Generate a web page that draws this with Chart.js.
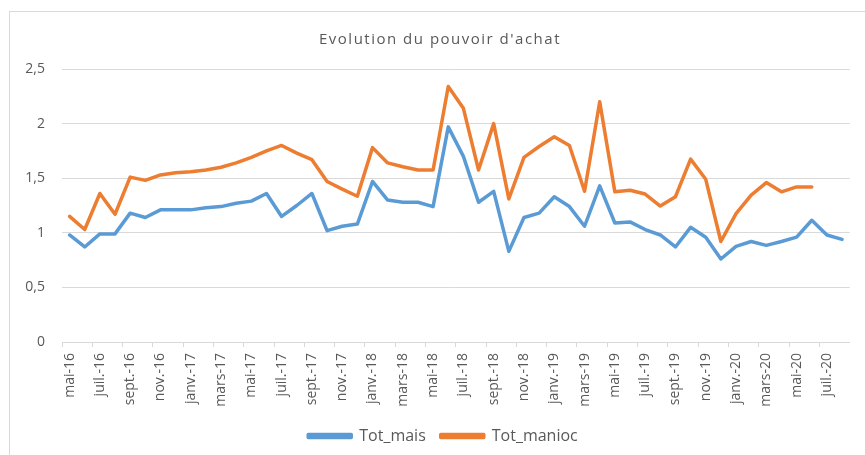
<!DOCTYPE html>
<html>
<head>
<meta charset="utf-8">
<script src="https://cdn.jsdelivr.net/npm/chart.js@4.4.1/dist/chart.umd.min.js"></script>
<style>
  html, body { margin: 0; padding: 0; background: #ffffff; overflow: hidden; }
  #frame { position: absolute; left: 9px; top: 11px; width: 900px; height: 500px; border: 1px solid #d9d9d9; box-sizing: border-box; }
  #wrap { position: absolute; left: 0; top: 0; width: 865px; height: 455px; }
</style>
</head>
<body>
<div id="frame"></div>
<div id="wrap"><canvas id="c" width="865" height="455"></canvas></div>
<script>
const months = [
  'mai-16','juin-16','juil.-16','août-16','sept.-16','oct.-16','nov.-16','déc.-16',
  'janv.-17','févr.-17','mars-17','avr.-17','mai-17','juin-17','juil.-17','août-17','sept.-17','oct.-17','nov.-17','déc.-17',
  'janv.-18','févr.-18','mars-18','avr.-18','mai-18','juin-18','juil.-18','août-18','sept.-18','oct.-18','nov.-18','déc.-18',
  'janv.-19','févr.-19','mars-19','avr.-19','mai-19','juin-19','juil.-19','août-19','sept.-19','oct.-19','nov.-19','déc.-19',
  'janv.-20','févr.-20','mars-20','avr.-20','mai-20','juin-20','juil.-20','août-20'
];
const totMais = [
  0.98, 0.87, 0.99, 0.99, 1.18, 1.14, 1.21, 1.21,
  1.21, 1.23, 1.24, 1.27, 1.29, 1.36, 1.15, 1.25, 1.36, 1.02, 1.06, 1.08,
  1.47, 1.30, 1.28, 1.28, 1.24, 1.97, 1.70, 1.28, 1.38, 0.83, 1.14, 1.18,
  1.33, 1.24, 1.06, 1.43, 1.09, 1.10, 1.03, 0.98, 0.87, 1.05, 0.96, 0.76,
  0.875, 0.92, 0.885, 0.92, 0.96, 1.115, 0.98, 0.94
];
const totManioc = [
  1.15, 1.03, 1.36, 1.17, 1.51, 1.48, 1.53, 1.55,
  1.56, 1.575, 1.60, 1.64, 1.69, 1.75, 1.80, 1.73, 1.67, 1.47, 1.40, 1.335,
  1.78, 1.64, 1.605, 1.575, 1.575, 2.34, 2.14, 1.575, 2.00, 1.31, 1.69, 1.79,
  1.88, 1.80, 1.38, 2.20, 1.375, 1.39, 1.355, 1.245, 1.33, 1.675, 1.49, 0.92,
  1.175, 1.345, 1.46, 1.375, 1.42, 1.42, null, null
];
const yTicks = [0, 0.5, 1, 1.5, 2, 2.5];
const titleText = "Evolution du pouvoir d'achat";
const seriesNames = ['Tot_mais', 'Tot_manioc'];

const FONT = "'Open Sans', 'Liberation Sans', sans-serif";
const TXT = '#595959';

const chart = new Chart(document.getElementById('c'), {
  type: 'line',
  data: {
    labels: months,
    datasets: [
      { label: seriesNames[0], data: totMais, borderColor: '#5B9BD5', backgroundColor: '#5B9BD5',
        borderWidth: 3.5, pointRadius: 0, tension: 0, spanGaps: false, borderJoinStyle: 'round', borderCapStyle: 'round' },
      { label: seriesNames[1], data: totManioc, borderColor: '#ED7D31', backgroundColor: '#ED7D31',
        borderWidth: 3.5, pointRadius: 0, tension: 0, spanGaps: false, borderJoinStyle: 'round', borderCapStyle: 'round' }
    ]
  },
  options: {
    responsive: false,
    animation: false,
    layout: { padding: { left: 9, right: 14, top: 0, bottom: 2 } },
    plugins: {
      title: { display: true, text: titleText, color: TXT,
        font: { family: FONT, size: 15, weight: 'normal' }, padding: { top: 31, bottom: 20 } },
      legend: { position: 'bottom',
        labels: { color: TXT, font: { family: FONT, size: 16 }, boxWidth: 43, boxHeight: 3, padding: 15 } },
      tooltip: { enabled: false }
    },
    scales: {
      x: {
        offset: true,
        grid: { offset: true, drawOnChartArea: false, drawTicks: true, tickLength: 5,
          color: (ctx) => (ctx.index % 2 === 0 ? '#d9d9d9' : 'rgba(0,0,0,0)') },
        border: { display: true, color: '#d9d9d9' },
        ticks: { autoSkip: false, maxRotation: 90, minRotation: 90, padding: 6, color: TXT,
          font: { family: FONT, size: 14 },
          callback: function(v, i) { return i % 2 === 0 ? months[i] : ''; } },
        afterFit: (s) => { s.height = 70; }
      },
      y: {
        min: 0, max: 2.5,
        afterBuildTicks: (s) => { s.ticks = yTicks.map(v => ({ value: v })); },
        grid: { color: '#d9d9d9', drawTicks: false },
        border: { display: false },
        ticks: { padding: 17, color: TXT, font: { family: FONT, size: 14 },
          callback: (v) => String(v).replace('.', ',') },
        afterFit: (s) => { s.width = 53; }
      }
    }
  }
});

// Spread the title letters like the reference rendering, and centre title/legend like the reference
function wrapDraw(block, dx, dy, spacing) {
  const orig = block.draw.bind(block);
  block.draw = function () {
    const ctx = chart.ctx;
    ctx.save();
    ctx.translate(dx, dy);
    if (spacing && 'letterSpacing' in ctx) ctx.letterSpacing = spacing;
    orig();
    ctx.restore();
  };
}
wrapDraw(chart.titleBlock, 10, 0, '1.5px');
wrapDraw(chart.legend, 13, 1, null);
chart.draw();
</script>
</body>
</html>
